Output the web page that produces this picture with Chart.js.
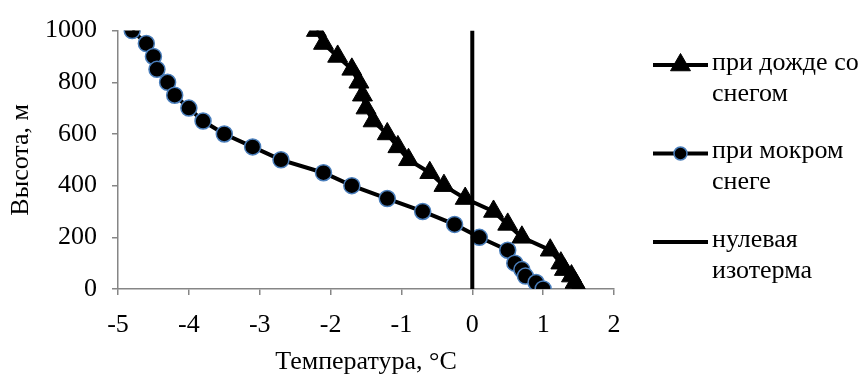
<!DOCTYPE html>
<html>
<head>
<meta charset="utf-8">
<script src="https://cdn.jsdelivr.net/npm/chart.js@4.4.1/dist/chart.umd.min.js"></script>
<style>
  body { margin: 0; background: #fff; }
  #wrap { width: 864px; height: 374px; }
</style>
</head>
<body>
<div id="wrap"><canvas id="chart"></canvas></div>
<script>
// высоты, м (общие для обеих кривых)
const heights = [1000, 950, 900, 850, 800, 750, 700, 650, 600, 550, 500, 450, 400, 350, 300, 250, 200, 150, 100, 75, 50, 25, 0];
// температура при дожде со снегом, °C
const tempRainSnow = [-2.2, -2.1, -1.9, -1.7, -1.6, -1.55, -1.5, -1.4, -1.2, -1.05, -0.9, -0.6, -0.4, -0.1, 0.3, 0.5, 0.7, 1.1, 1.25, 1.3, 1.4, 1.45, 1.5];
// температура при мокром снеге, °C
const tempWetSnow = [-4.8, -4.6, -4.5, -4.45, -4.3, -4.2, -4.0, -3.8, -3.5, -3.1, -2.7, -2.1, -1.7, -1.2, -0.7, -0.25, 0.1, 0.5, 0.6, 0.7, 0.75, 0.9, 1.0];
// нулевая изотерма
const isoTemp = [0, 0];
const isoHeight = [0, 1000];

const seriesNames = [['при дожде со', 'снегом'], ['при мокром', 'снеге'], ['нулевая', 'изотерма']];

const serif = '"Times New Roman", "Liberation Serif", serif';
const axisGray = '#868686';

const toPoints = (xs, ys) => xs.map((x, i) => ({ x: x, y: ys[i] }));

// легенда справа: линия с маркером и подпись в две строки
const sideLegend = {
  id: 'sideLegend',
  afterDraw(chart) {
    const ctx = chart.ctx;
    ctx.save();
    chart.data.datasets.forEach((ds, i) => {
      const y = 65 + i * 88.5;
      ctx.strokeStyle = ds.borderColor;
      ctx.lineWidth = ds.borderWidth;
      ctx.beginPath();
      ctx.moveTo(653, y);
      ctx.lineTo(708, y);
      ctx.stroke();
      if (ds.pointRadius > 0) {
        ctx.fillStyle = ds.pointBackgroundColor;
        ctx.strokeStyle = ds.pointBorderColor;
        ctx.lineWidth = ds.pointBorderWidth;
        Chart.helpers.drawPoint(ctx, {
          pointStyle: ds.pointStyle,
          radius: ds.pointStyle === 'circle' ? 6.5 : ds.pointRadius,
          borderWidth: ds.pointBorderWidth,
          rotation: 0
        }, 680.5, y);
      }
      ctx.fillStyle = '#000';
      ctx.font = '26px ' + serif;
      ctx.textBaseline = 'middle';
      ctx.textAlign = 'left';
      ds.label.forEach((line, j) => ctx.fillText(line, 712, y - 2 + j * 31));
    });
    ctx.restore();
  }
};

new Chart(document.getElementById('chart'), {
  type: 'scatter',
  data: {
    datasets: [
      {
        label: seriesNames[0],
        data: toPoints(tempRainSnow, heights),
        showLine: true,
        borderColor: '#000',
        borderWidth: 4,
        pointStyle: 'triangle',
        pointRadius: 11.5,
        pointBackgroundColor: '#000',
        pointBorderColor: '#000',
        pointBorderWidth: 1,
        order: 2
      },
      {
        label: seriesNames[1],
        data: toPoints(tempWetSnow, heights),
        showLine: true,
        borderColor: '#000',
        borderWidth: 4,
        pointStyle: 'circle',
        pointRadius: 8,
        pointBackgroundColor: '#000',
        pointBorderColor: '#4a7ebb',
        pointBorderWidth: 1.5,
        order: 1
      },
      {
        label: seriesNames[2],
        data: toPoints(isoTemp, isoHeight),
        showLine: true,
        borderColor: '#000',
        borderWidth: 4,
        pointRadius: 0,
        order: 0
      }
    ]
  },
  options: {
    responsive: true,
    maintainAspectRatio: false,
    animation: false,
    layout: { padding: { left: 0, top: 26, right: 250, bottom: 0 } },
    plugins: {
      legend: { display: false },
      tooltip: { enabled: false }
    },
    scales: {
      x: {
        type: 'linear',
        min: -5,
        max: 2,
        afterFit: (scale) => { scale.height = 85; },
        ticks: {
          stepSize: 1,
          color: '#000',
          padding: 15,
          font: { family: serif, size: 26 },
          callback: (v) => String(v)
        },
        grid: { drawOnChartArea: false, drawTicks: true, tickLength: 6, color: axisGray, lineWidth: 1.5 },
        border: { display: true, color: axisGray, width: 1.5 },
        title: {
          display: true,
          text: 'Температура, °C',
          color: '#000',
          font: { family: serif, size: 26, lineHeight: 1 },
          padding: { top: 0, bottom: -1 }
        }
      },
      y: {
        type: 'linear',
        min: 0,
        max: 1000,
        afterFit: (scale) => { scale.width = 118; },
        ticks: {
          stepSize: 200,
          color: '#000',
          padding: 15,
          font: { family: serif, size: 26 },
          callback: (v) => String(v)
        },
        grid: { drawOnChartArea: false, drawTicks: true, tickLength: 6, color: axisGray, lineWidth: 1.5 },
        border: { display: true, color: axisGray, width: 1.5 },
        title: {
          display: true,
          text: 'Высота, м',
          color: '#000',
          font: { family: serif, size: 26, lineHeight: 1 },
          padding: { top: 8, bottom: 0 }
        }
      }
    }
  },
  plugins: [sideLegend]
});
</script>
</body>
</html>
